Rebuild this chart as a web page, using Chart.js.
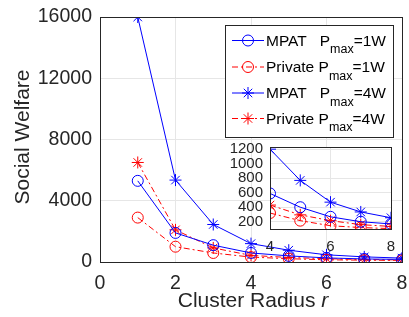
<!DOCTYPE html>
<html>
<head>
<meta charset="utf-8">
<script src="https://cdn.jsdelivr.net/npm/chart.js@4"></script>
<style>
body { margin: 0; background: #fff; }
#wrap { position: relative; width: 409px; height: 317px; }
canvas { position: absolute; }
#main { left: 0; top: 0; }
#inset { left: 225px; top: 140px; }
</style>
</head>
<body>
<div id="wrap">
  <canvas id="main" width="409" height="317"></canvas>
  <canvas id="inset" width="175" height="120"></canvas>
</div>
<script>
/* Data */
const radius = [1, 2, 3, 4, 5, 6, 7, 8];
const mpat1W = [5300, 1900, 1100, 590, 400, 268, 200, 170];
const private1W = [2900, 1000, 590, 320, 215, 145, 120, 105];
const mpat4W = [16000, 5350, 2450, 1200, 770, 470, 335, 255];
const private4W = [6500, 2100, 920, 430, 295, 215, 160, 135];

const mainXTicks = [0, 2, 4, 6, 8];
const mainYTicks = [0, 4000, 8000, 12000, 16000];
const insetXTicks = [4, 6, 8];
const insetYTicks = [200, 400, 600, 800, 1000, 1200];

const legendNames = ["MPAT   P", "Private P", "MPAT   P", "Private P"];
const legendTails = ["=1W", "=1W", "=4W", "=4W"];

const BLUE = "#0000ff";
const RED = "#ff0000";
const AXIS = "#262626";
const GRID = "#e6e6e6";
const FONT = "'Liberation Sans', Arial, sans-serif";
const DASHDOT = [6, 3, 2, 3];

const seriesStyles = [
  { data: mpat1W, color: BLUE, point: "circle", dash: [] },
  { data: private1W, color: RED, point: "circle", dash: DASHDOT },
  { data: mpat4W, color: BLUE, point: "star", dash: [] },
  { data: private4W, color: RED, point: "star", dash: DASHDOT }
];

function makeDatasets(from) {
  return seriesStyles.map(s => ({
    data: radius.slice(from).map((r, i) => ({ x: r, y: s.data[from + i] })),
    borderColor: s.color,
    backgroundColor: "transparent",
    borderWidth: 1,
    borderDash: s.dash,
    pointStyle: s.point,
    pointRadius: s.point === "star" ? 6 : 5.5,
    pointBorderColor: s.color,
    pointBorderWidth: 1,
    pointBackgroundColor: "transparent",
    tension: 0
  }));
}

function fixedTicks(values) {
  return scale => {
    scale.ticks = values.map(v => ({ value: v }));
  };
}

function noPadding(scale) {
  scale.paddingLeft = 0;
  scale.paddingRight = 0;
  scale.paddingTop = 0;
  scale.paddingBottom = 0;
}

/* Box, axis titles and legend for the main chart */
const mainDecor = {
  id: "mainDecor",
  afterDraw(chart) {
    const { ctx, chartArea: a } = chart;
    ctx.save();
    ctx.strokeStyle = AXIS;
    ctx.lineWidth = 1;
    ctx.strokeRect(Math.round(a.left) + 0.5, Math.round(a.top) + 0.5,
      Math.round(a.right - a.left), Math.round(a.bottom - a.top));

    // axis titles
    ctx.fillStyle = AXIS;
    ctx.textBaseline = "alphabetic";
    const xTitle = "Cluster Radius ";
    ctx.font = "21px " + FONT;
    const wT = ctx.measureText(xTitle).width;
    ctx.font = "italic 21px " + FONT;
    const wR = ctx.measureText("r").width;
    const startX = 253 - (wT + wR) / 2;
    ctx.font = "21px " + FONT;
    ctx.textAlign = "left";
    ctx.fillText(xTitle, startX, 307);
    ctx.font = "italic 21px " + FONT;
    ctx.fillText("r", startX + wT, 307);

    ctx.save();
    ctx.translate(28.5, 137);
    ctx.rotate(-Math.PI / 2);
    ctx.font = "21px " + FONT;
    ctx.textAlign = "center";
    ctx.fillText("Social Welfare", 0, 0);
    ctx.restore();

    // legend
    ctx.fillStyle = "#fff";
    ctx.fillRect(225, 25, 168, 112);
    ctx.strokeStyle = AXIS;
    ctx.strokeRect(225.5, 25.5, 168, 112);
    const rows = [40, 66.5, 92.5, 118];
    seriesStyles.forEach((s, i) => {
      const y = rows[i];
      ctx.strokeStyle = s.color;
      ctx.fillStyle = "rgba(0,0,0,0)";
      ctx.lineWidth = 1;
      ctx.setLineDash(s.dash);
      ctx.beginPath();
      ctx.moveTo(232, y + 0.5);
      ctx.lineTo(264, y + 0.5);
      ctx.stroke();
      ctx.setLineDash([]);
      Chart.helpers.drawPoint(ctx, {
        pointStyle: s.point,
        radius: s.point === "star" ? 6 : 5.5,
        rotation: 0,
        borderWidth: 1
      }, 248, y + 0.5);

      ctx.fillStyle = "#000";
      ctx.textAlign = "left";
      ctx.font = "15.5px " + FONT;
      ctx.fillText(legendNames[i], 266, y + 5.5);
      let x = 266 + ctx.measureText(legendNames[i]).width;
      ctx.font = "12.5px " + FONT;
      ctx.fillText("max", x, y + 13);
      x += ctx.measureText("max").width;
      ctx.font = "15.5px " + FONT;
      ctx.fillText(legendTails[i], x, y + 5.5);
    });
    ctx.restore();
  }
};

/* White plot area and box for the inset */
const insetDecor = {
  id: "insetDecor",
  beforeDraw(chart) {
    const { ctx, chartArea: a } = chart;
    ctx.save();
    ctx.fillStyle = "#fff";
    ctx.fillRect(a.left, a.top, a.right - a.left, a.bottom - a.top);
    ctx.restore();
  },
  afterDraw(chart) {
    const { ctx, chartArea: a } = chart;
    ctx.save();
    ctx.strokeStyle = AXIS;
    ctx.lineWidth = 1;
    ctx.strokeRect(Math.round(a.left) + 0.5, Math.round(a.top) + 0.5,
      Math.round(a.right - a.left), Math.round(a.bottom - a.top));
    ctx.restore();
  }
};

new Chart(document.querySelector("#main"), {
  type: "line",
  data: { datasets: makeDatasets(0) },
  options: {
    responsive: false,
    animation: false,
    layout: { padding: { top: 17, right: 4, left: 0, bottom: 0 } },
    plugins: { legend: { display: false }, tooltip: { enabled: false } },
    scales: {
      x: {
        type: "linear",
        min: 0,
        max: 8,
        afterBuildTicks: fixedTicks(mainXTicks),
        afterFit: scale => { noPadding(scale); scale.height = 55; },
        grid: { color: GRID, drawTicks: false },
        border: { color: AXIS },
        ticks: { color: AXIS, padding: 10, autoSkip: false, font: { family: FONT, size: 19.5 }, callback: v => String(v) }
      },
      y: {
        min: 0,
        max: 16000,
        afterBuildTicks: fixedTicks(mainYTicks),
        afterFit: scale => { noPadding(scale); scale.width = 100; },
        grid: { color: GRID, drawTicks: false },
        border: { color: AXIS },
        ticks: { color: AXIS, padding: 8, autoSkip: false, font: { family: FONT, size: 19.5 }, callback: v => String(v) }
      }
    }
  },
  plugins: [mainDecor]
});

new Chart(document.querySelector("#inset"), {
  type: "line",
  data: { datasets: makeDatasets(3) },
  options: {
    responsive: false,
    animation: false,
    layout: { padding: { top: 6, right: 9, left: 0, bottom: 0 } },
    plugins: { legend: { display: false }, tooltip: { enabled: false } },
    scales: {
      x: {
        type: "linear",
        min: 4,
        max: 8,
        afterBuildTicks: fixedTicks(insetXTicks),
        afterFit: scale => { noPadding(scale); scale.height = 31; },
        grid: { color: GRID, drawTicks: false },
        border: { color: AXIS },
        ticks: { color: AXIS, padding: 9, autoSkip: false, font: { family: FONT, size: 15 }, callback: v => String(v) }
      },
      y: {
        min: 100,
        max: 1230,
        afterBuildTicks: fixedTicks(insetYTicks),
        afterFit: scale => { noPadding(scale); scale.width = 45; },
        grid: { color: GRID, drawTicks: false },
        border: { color: AXIS },
        ticks: { color: AXIS, padding: 7, autoSkip: false, font: { family: FONT, size: 15 }, callback: v => String(v) }
      }
    }
  },
  plugins: [insetDecor]
});
</script>
</body>
</html>
